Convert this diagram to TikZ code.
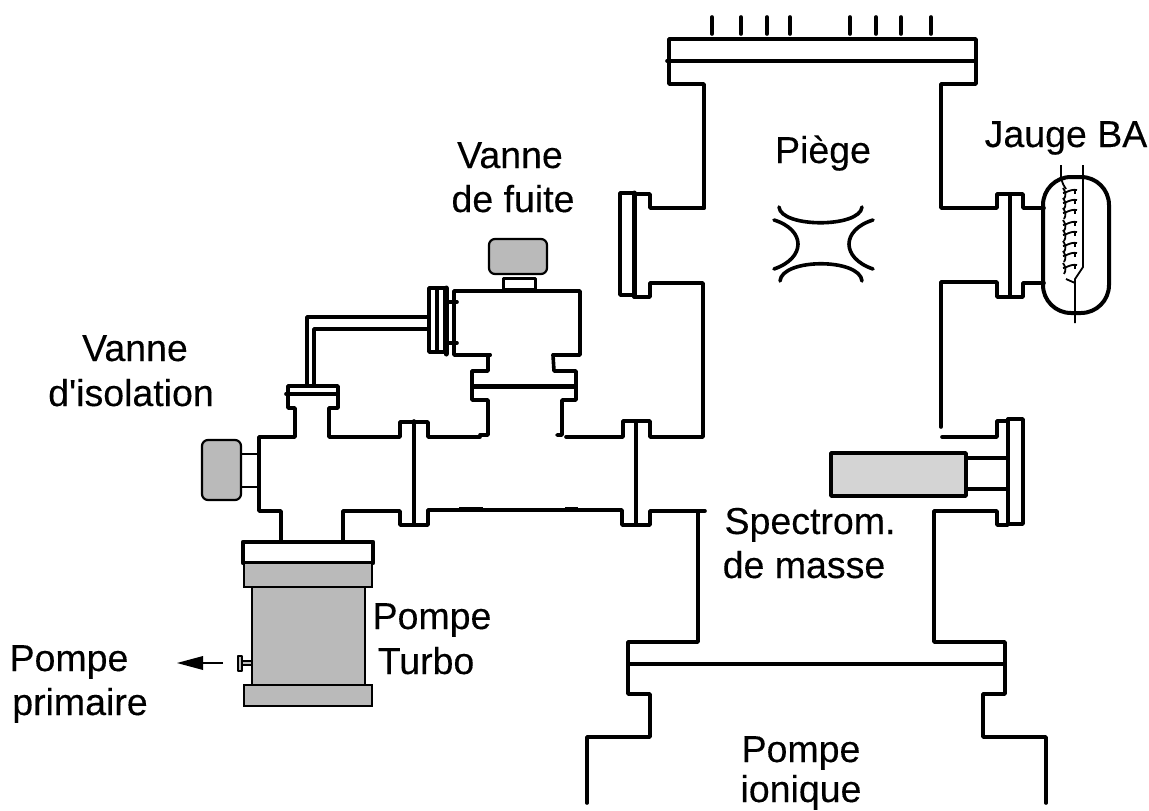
\documentclass[tikz,border=0pt]{standalone}
\usepackage{fontspec}
\newfontfamily\lblfont{Liberation Sans}
\tikzset{
  x=1pt,y=-1pt,
  wall/.style={line width=3.6pt,line join=round,line cap=round},
  thickwall/.style={line width=5pt,line join=round,line cap=round},
  thinwall/.style={line width=1.8pt,line join=round},
  grayfill/.style={fill=black!27},
  lbl/.style={anchor=base,inner sep=0pt,font=\fontsize{37.5}{44}\lblfont\addfontfeature{FakeBold=0.25}}
}
\begin{document}
\begin{tikzpicture}
\useasboundingbox (0,0) rectangle (1149,811);
% top flange and chamber
\foreach \px in {712,741,767,790,850,876,901,931} \draw[wall] (\px,17) -- (\px,34);
\draw[wall] (704,208) -- (704,84) -- (669,84) -- (669,39) -- (976,39) -- (976,84) -- (941,84) -- (941,208) -- (997,208) -- (997,194) -- (1023,194) -- (1023,208) -- (1044,208);
\draw[wall] (667,61) -- (976,61);
% left port
\draw[wall] (704,208) -- (650,208) -- (650,194) -- (635,194);
\draw[wall] (620,193) rectangle (635,295);
\draw[thickwall] (634,193) -- (634,296);
\draw[wall] (634,297) -- (650,297) -- (650,283) -- (703,283) -- (703,437) -- (650,437) -- (650,421) -- (623,421) -- (623,437) -- (566,437);
% right port
\draw[wall] (941,427) -- (941,282) -- (997,282) -- (997,297) -- (1023,297) -- (1023,283) -- (1044,283);
\draw[wall] (1010,194) -- (1010,297);
% Bayard-Alpert gauge
\draw[line width=4pt,rounded corners=28pt] (1043,177) rectangle (1109,313);
\draw[thinwall] (1061,165) -- (1061,177) .. controls (1062,183) and (1064,186) .. (1066,189);
\draw[thinwall] (1083,165) -- (1083,267) -- (1075,279) -- (1075,323);
\draw[thinwall] (1066,279) -- (1075,283);
\foreach \ty in {190,200,210,222,232,243,253,265} {
  \draw[thinwall] (1063,\ty+3) .. controls (1067,\ty+3) and (1069,\ty-1) .. (1077,\ty);
  \draw[thinwall] (1063,\ty-2) .. controls (1066,\ty+2) and (1066,\ty+6) .. (1064,\ty+9);
  \draw[thinwall] (1075,\ty) -- (1075,\ty+4);
}
% trap electrodes
\draw[wall] (779,207) .. controls (781,228) and (860,228) .. (862,207);
\draw[wall] (780,281) .. controls (782,258) and (860,258) .. (862,281);
\draw[wall] (774,220) .. controls (806,230) and (806,258) .. (774,269);
\draw[wall] (873,220) .. controls (841,230) and (841,258) .. (873,269);
% mass spectrometer
\draw[wall] (942,437) -- (997,437) -- (997,421) -- (1008,421);
\draw[wall] (1008,419) rectangle (1023,524);
\draw[wall] (1008,419) -- (1008,525) -- (997,525) -- (997,511) -- (934,511) -- (934,642) -- (1005,642) -- (1005,694) -- (983,694) -- (983,737) -- (1046,737) -- (1046,803);
\draw[wall,fill=black!17] (831,453) rectangle (966,496);
\draw[wall] (966,458) -- (1008,458) (966,489) -- (1008,489);
% lower flange
\draw[wall] (698,511) -- (698,642) -- (628,642) -- (628,694) -- (650,694) -- (650,737) -- (587,737) -- (587,803);
\draw[wall] (628,664) -- (1005,664);
% horizontal tube
\draw[wall] (705,511) -- (650,511) -- (650,525) -- (622,525) -- (622,510) -- (428,510) -- (428,525) -- (400,525) -- (400,511) -- (343,511) -- (343,541);
\draw[line width=5pt] (459,509) -- (483,509) (565,509) -- (578,509);
\draw[wall] (636,421) -- (636,525);
\draw[wall] (414,421) -- (414,525);
% leak valve
\draw[line width=2.2pt,rounded corners=6pt,grayfill] (489,239) rectangle (547,274);
\draw[wall,line width=3pt] (503,278) rectangle (535,289);
\draw[wall] (490,355) -- (454,355) -- (454,291) -- (580,291) -- (580,355) -- (553,355);
\draw[wall] (490,355) -- (488,355) -- (488,371) -- (472,371) -- (472,400) -- (488,400) -- (488,435) -- (480,435);
\draw[wall] (553,355) -- (554,371) -- (576,371) -- (576,400) -- (562,400) -- (562,435) -- (557,435);
\draw[line width=5pt] (472,386) -- (576,386);
\draw[wall] (429,288) rectangle (445,352);
\draw[wall] (437,288) -- (437,352);
\draw[thickwall] (446,288) -- (446,354);
\draw[wall] (446,302) -- (457,302) (446,343) -- (457,343);
% tube between valves
\draw[wall] (428,317) -- (307,317) -- (307,386);
\draw[wall] (428,329) -- (314,329) -- (314,386);
% isolation valve
\draw[wall] (288,386) rectangle (338,394);
\draw[wall] (286,394) -- (338,394);
\draw[wall] (288,394) -- (288,408) -- (295,408) -- (295,437) -- (259,437) -- (259,511) -- (281,511) -- (281,541);
\draw[wall] (338,394) -- (338,408) -- (329,408) -- (329,437) -- (400,437) -- (400,422) -- (428,422) -- (428,437) -- (480,437);
\draw[line width=2.2pt,rounded corners=6pt,grayfill] (202,440) rectangle (241,500);
\draw[thinwall] (241,454) -- (259,454) (241,487) -- (259,487);
% turbo pump
\draw[wall,line width=4.2pt] (243,542) rectangle (373,563);
\draw[line width=2.8pt,grayfill] (244,563) rectangle (372,587);
\draw[line width=2.8pt,grayfill] (252,587) rectangle (365,685);
\draw[line width=2.8pt,grayfill] (244,685) rectangle (372,706);
\draw[thinwall,fill=black!25] (238,656) rectangle (242,671);
\draw[thinwall,fill=black!25] (242,661) rectangle (252,665);
% outlet arrow
\coordinate (arrowstart) at (223,663);
\coordinate (arrowtip) at (203,663);
\draw[line width=2pt] (arrowstart) -- (arrowtip);
\fill (177,663) -- (203,656) -- (203,670) -- cycle;
% labels
\node[lbl] (fuite1) at (510,168) {Vanne};
\node[lbl] (fuite2) at (513,212) {de fuite};
\node[lbl] (piege) at (823,163) {Piège};
\node[lbl] (jauge) at (1066,147) {Jauge BA};
\node[lbl] (iso1) at (135,361) {Vanne};
\node[lbl] (iso2) at (131,406) {d'isolation};
\node[lbl] (spec1) at (810,534) {Spectrom.};
\node[lbl] (spec2) at (804,578) {de masse};
\node[lbl] (turbo1) at (432,629) {Pompe};
\node[lbl] (turbo2) at (426,674) {Turbo};
\node[lbl] (prim1) at (69,671) {Pompe};
\node[lbl] (prim2) at (80,715) {primaire};
\node[lbl] (ion1) at (801,762) {Pompe};
\node[lbl] (ion2) at (801,802) {ionique};
\end{tikzpicture}
\end{document}
